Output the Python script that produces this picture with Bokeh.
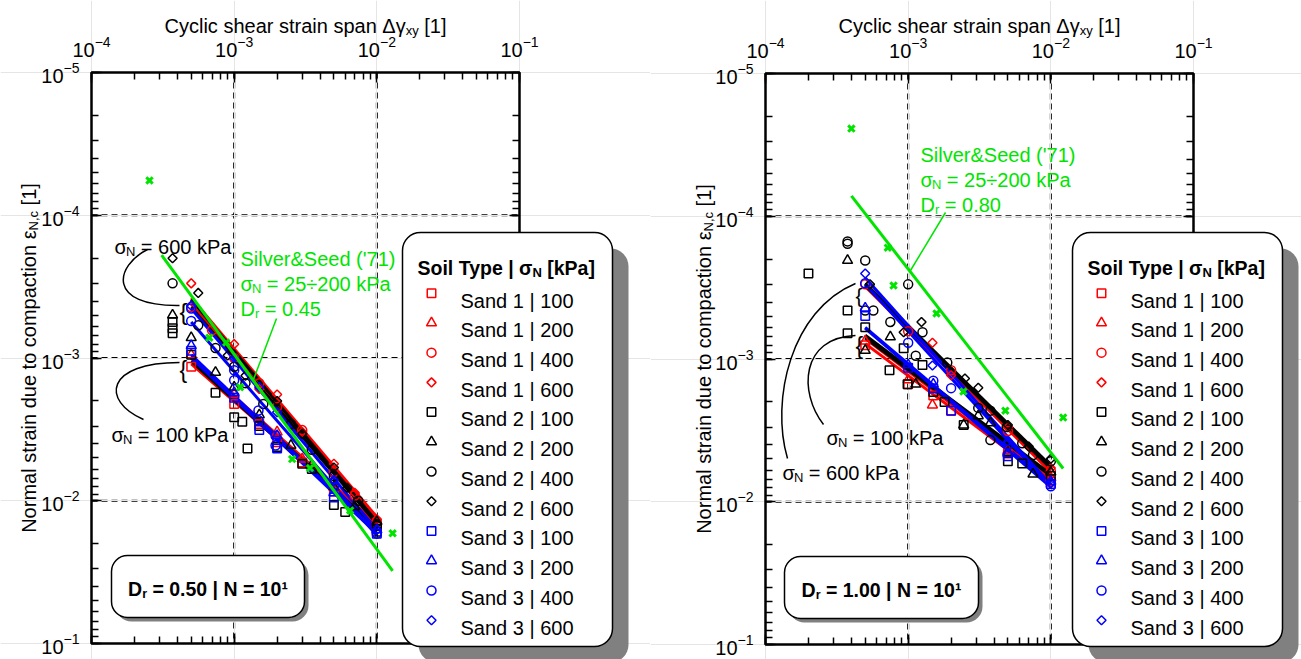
import math
from bokeh.plotting import figure
from bokeh.models import Range1d, LogAxis, LogTicker, Label, BoxAnnotation
from bokeh.layouts import row
from bokeh.embed import file_html
from bokeh.resources import INLINE

# ---------------- DATA : panel A (Dr = 0.50) ----------------
A_S1_100_x = [5e-4, 1e-3, 1.5e-3, 2e-3, 3e-3, 5e-3, 1e-2]
A_S1_100_y = [1.15e-3, 2.1e-3, 2.9e-3, 3.9e-3, 5.4e-3, 8.6e-3, 1.5e-2]
A_S1_200_x = [5e-4, 1e-3, 2e-3, 3e-3, 5e-3, 1e-2]
A_S1_200_y = [9.5e-4, 1.8e-3, 3.3e-3, 5.1e-3, 8.0e-3, 1.4e-2]
A_S1_400_x = [5e-4, 7e-4, 1e-3, 1.5e-3, 2e-3, 3e-3, 5e-3, 7e-3, 1e-2]
A_S1_400_y = [4.4e-4, 6.4e-4, 1.0e-3, 1.5e-3, 2.2e-3, 3.2e-3, 6.3e-3, 9.2e-3, 1.4e-2]
A_S1_600_x = [5e-4, 1e-3, 1.5e-3, 2e-3, 3e-3, 5e-3, 7e-3, 1e-2]
A_S1_600_y = [3.0e-4, 8.0e-4, 1.65e-3, 1.8e-3, 3.3e-3, 5.5e-3, 8.8e-3, 1.35e-2]
A_S2_100_x = [3.7e-4, 3.7e-4, 3.7e-4, 5e-4, 7.4e-4, 1e-3, 1.14e-3, 1.24e-3, 1.5e-3, 2e-3, 3e-3, 3.5e-3, 5e-3, 6e-3, 1e-2]
A_S2_100_y = [5.6e-4, 6.2e-4, 6.7e-4, 9.5e-4, 1.75e-3, 2.6e-3, 2.8e-3, 4.3e-3, 3.0e-3, 4.2e-3, 5.5e-3, 6.0e-3, 1.07e-2, 1.2e-2, 1.65e-2]
A_S2_200_x = [3.7e-4, 5e-4, 7.4e-4, 1e-3, 1.5e-3, 2.5e-3, 3.5e-3, 5e-3, 7e-3, 1e-2]
A_S2_200_y = [5.0e-4, 7.2e-4, 1.26e-3, 1.6e-3, 2.5e-3, 4.1e-3, 5.6e-3, 8.0e-3, 1.1e-2, 1.4e-2]
A_S2_400_x = [3.7e-4, 5.6e-4, 7.4e-4, 1e-3, 1.2e-3, 1.6e-3, 2.5e-3, 3.5e-3, 5e-3, 7.4e-3, 1e-2]
A_S2_400_y = [3.0e-4, 5.9e-4, 8.5e-4, 1.15e-3, 1.5e-3, 2.1e-3, 2.9e-3, 4.4e-3, 6.7e-3, 1.0e-2, 1.5e-2]
A_S2_600_x = [3.7e-4, 5.6e-4, 9e-4, 1.2e-3, 2e-3, 3e-3, 5e-3, 6.2e-3, 1e-2]
A_S2_600_y = [2.0e-4, 3.5e-4, 9.6e-4, 1.33e-3, 2.0e-3, 3.4e-3, 5.85e-3, 8.1e-3, 1.45e-2]
A_S3_100_x = [5e-4, 1e-3, 1.5e-3, 2e-3, 5e-3, 1e-2]
A_S3_100_y = [8.9e-4, 1.9e-3, 3.2e-3, 4.3e-3, 9.5e-3, 1.7e-2]
A_S3_200_x = [5e-4, 1e-3, 2e-3, 5e-3, 1e-2]
A_S3_200_y = [8.2e-4, 1.75e-3, 3.5e-3, 8.8e-3, 1.6e-2]
A_S3_400_x = [5e-4, 5e-4, 1e-3, 1e-3, 1.48e-3, 1.48e-3, 1.95e-3, 1.95e-3, 5e-3, 1e-2]
A_S3_400_y = [4.5e-4, 5.5e-4, 1.22e-3, 1.43e-3, 2.33e-3, 2.73e-3, 3.5e-3, 4.1e-3, 8.0e-3, 1.7e-2]
A_S3_600_x = [5e-4, 1e-3, 1.5e-3, 2e-3, 5e-3, 1e-2]
A_S3_600_y = [4.3e-4, 1.0e-3, 1.6e-3, 2.4e-3, 7.2e-3, 1.6e-2]
# fitted power-law lines (value at FIT_X[0] and FIT_X[1]); order S1-100..S1-600, S2-..., S3-...
FIT_X = [5e-4, 1e-2]
A_FIT_START = [1.1e-3, 1.0e-3, 4.2e-4, 3.8e-4, 1.05e-3, 1.0e-3, 4.4e-4, 3.9e-4, 1.0e-3, 9.5e-4, 5.6e-4, 4.5e-4]
A_FIT_END = [1.5e-2, 1.45e-2, 1.35e-2, 1.3e-2, 1.6e-2, 1.55e-2, 1.45e-2, 1.4e-2, 1.7e-2, 1.65e-2, 1.75e-2, 1.6e-2]
# Silver & Seed ('71), Dr = 0.45
A_SS_x = [2.55e-4, 6.7e-4, 8.8e-4, 1.1e-3, 2.55e-3, 3.4e-3, 6.5e-3, 1.29e-2]
A_SS_y = [5.7e-5, 7.2e-4, 7.8e-4, 1.6e-3, 5.1e-3, 5.9e-3, 1.17e-2, 1.69e-2]
A_SS_LINE_x = [3.1e-4, 1.29e-2]
A_SS_LINE_y = [1.9e-4, 3.1e-2]

# ---------------- DATA : panel B (Dr = 1.00) ----------------
B_S1_100_x = [5e-4, 1e-3, 1.5e-3, 2e-3, 5e-3, 1e-2]
B_S1_100_y = [8.0e-4, 1.5e-3, 1.8e-3, 2.3e-3, 4.6e-3, 7.2e-3]
B_S1_200_x = [5e-4, 1e-3, 1.48e-3, 5e-3, 1e-2]
B_S1_200_y = [7.5e-4, 1.4e-3, 2.1e-3, 4.4e-3, 6.8e-3]
B_S1_400_x = [5e-4, 1e-3, 2e-3, 5e-3, 1e-2]
B_S1_400_y = [3.0e-4, 6.4e-4, 1.2e-3, 3.2e-3, 6.1e-3]
B_S1_600_x = [1.48e-3, 2e-3, 5e-3, 1e-2]
B_S1_600_y = [7.7e-4, 1.3e-3, 3.0e-3, 5.8e-3]
B_S2_100_x = [2e-4, 3.76e-4, 3.76e-4, 5e-4, 7.4e-4, 9.3e-4, 9.9e-4, 1.26e-3, 1.5e-3, 1.8e-3, 2.45e-3, 5e-3, 6.3e-3, 1e-2]
B_S2_100_y = [2.52e-4, 4.57e-4, 6.6e-4, 6.0e-4, 1.2e-3, 8.4e-4, 1.5e-3, 1.1e-3, 1.7e-3, 2.0e-3, 2.9e-3, 5.2e-3, 5.4e-3, 6.6e-3]
B_S2_200_x = [3.76e-4, 5e-4, 7.5e-4, 1.13e-3, 2.45e-3, 3.1e-3, 3.77e-3, 5e-3, 7.5e-3, 1e-2]
B_S2_200_y = [2.04e-4, 8.7e-4, 7.0e-4, 1.5e-3, 2.9e-3, 2.5e-3, 2.8e-3, 4.5e-3, 6.4e-3, 6.2e-3]
B_S2_400_x = [3.76e-4, 3.76e-4, 5e-4, 5e-4, 5.7e-4, 7.5e-4, 1e-3, 1.13e-3, 1.26e-3, 1.88e-3, 3.1e-3, 3.77e-3, 3.77e-3, 4.9e-3, 6.3e-3, 7.5e-3, 1e-2]
B_S2_400_y = [1.5e-4, 1.56e-4, 2.04e-4, 4.57e-4, 4.57e-4, 5.5e-4, 3.0e-4, 9.5e-4, 6.5e-4, 1.06e-3, 2.2e-3, 2.3e-3, 3.7e-3, 3.0e-3, 3.9e-3, 4.7e-3, 5.2e-3]
B_S2_600_x = [5.4e-4, 9.3e-4, 1.24e-3, 2.5e-3, 3.1e-3, 5e-3, 7e-3, 1e-2]
B_S2_600_y = [3.0e-4, 6.5e-4, 5.5e-4, 1.37e-3, 1.59e-3, 2.9e-3, 4.1e-3, 5.0e-3]
B_S3_100_x = [5e-4, 1e-3, 1.5e-3, 2e-3, 5e-3, 1e-2]
B_S3_100_y = [5.0e-4, 1.15e-3, 1.6e-3, 2.3e-3, 4.8e-3, 7.5e-3]
B_S3_200_x = [5e-4, 1e-3, 1.5e-3, 5e-3, 1e-2]
B_S3_200_y = [4.4e-4, 1.1e-3, 1.5e-3, 4.6e-3, 7.2e-3]
B_S3_400_x = [5e-4, 1e-3, 1.5e-3, 2e-3, 5e-3, 1e-2]
B_S3_400_y = [2.95e-4, 7.7e-4, 1.42e-3, 1.6e-3, 4.0e-3, 7.8e-3]
B_S3_600_x = [5e-4, 1.48e-3, 5e-3, 1e-2]
B_S3_600_y = [2.52e-4, 1.11e-3, 3.8e-3, 7.4e-3]
B_FIT_START = [7.8e-4, 7.2e-4, 3.1e-4, 3.0e-4, 7.1e-4, 6.8e-4, 3.05e-4, 2.95e-4, 6.1e-4, 6.0e-4, 3.0e-4, 2.7e-4]
B_FIT_END = [7.3e-3, 7.0e-3, 6.2e-3, 6.0e-3, 6.6e-3, 6.4e-3, 5.85e-3, 5.6e-3, 7.9e-3, 7.6e-3, 7.9e-3, 7.6e-3]
# Silver & Seed ('71), Dr = 0.80
B_SS_x = [4.0e-4, 7.2e-4, 7.9e-4, 1.58e-3, 2.44e-3, 4.8e-3, 1.22e-2]
B_SS_y = [2.43e-5, 1.66e-4, 3.06e-4, 4.8e-4, 1.69e-3, 2.3e-3, 2.57e-3]
B_SS_LINE_x = [4.0e-4, 1.22e-2]
B_SS_LINE_y = [7.2e-5, 5.85e-3]

# axes / grid
X_LIMITS = (1e-4, 1e-1)
Y_LIMITS = (1e-5, 1e-1)
GRID_X = [1e-3, 1e-2]
GRID_Y = [1e-4, 1e-3, 1e-2]

SANDS = ["Sand 1", "Sand 2", "Sand 3"]
SAND_COLORS = ["#ff0000", "#000000", "#0000ff"]
STRESSES = [100, 200, 400, 600]
STRESS_MARKERS = ["square", "triangle", "circle", "diamond"]
GREEN = "#00e400"
FONT = "Liberation Sans"

A_SERIES = [(A_S1_100_x, A_S1_100_y), (A_S1_200_x, A_S1_200_y), (A_S1_400_x, A_S1_400_y), (A_S1_600_x, A_S1_600_y),
            (A_S2_100_x, A_S2_100_y), (A_S2_200_x, A_S2_200_y), (A_S2_400_x, A_S2_400_y), (A_S2_600_x, A_S2_600_y),
            (A_S3_100_x, A_S3_100_y), (A_S3_200_x, A_S3_200_y), (A_S3_400_x, A_S3_400_y), (A_S3_600_x, A_S3_600_y)]
B_SERIES = [(B_S1_100_x, B_S1_100_y), (B_S1_200_x, B_S1_200_y), (B_S1_400_x, B_S1_400_y), (B_S1_600_x, B_S1_600_y),
            (B_S2_100_x, B_S2_100_y), (B_S2_200_x, B_S2_200_y), (B_S2_400_x, B_S2_400_y), (B_S2_600_x, B_S2_600_y),
            (B_S3_100_x, B_S3_100_y), (B_S3_200_x, B_S3_200_y), (B_S3_400_x, B_S3_400_y), (B_S3_600_x, B_S3_600_y)]

# ---------------- text metrics (Arial / Liberation Sans, per 1000 em) ----------------
W_REG = {' ': 278, "'": 191, '(': 333, ')': 333, ',': 278, '.': 278, '=': 584, '&': 667, '[': 278, ']': 278,
         '|': 260, '{': 334, '÷': 584, 'C': 722, 'D': 722, 'N': 722, 'P': 667, 'S': 667,
         'a': 556, 'c': 500, 'd': 556, 'e': 556, 'h': 556, 'i': 222, 'k': 500, 'l': 222, 'm': 833, 'n': 556,
         'o': 556, 'p': 556, 'r': 333, 's': 500, 't': 278, 'u': 556, 'v': 500, 'x': 500, 'y': 500,
         'Δ': 668, 'γ': 500, 'ε': 446, 'σ': 570}
W_BOLD = {' ': 278, '.': 278, '=': 584, '[': 333, ']': 333, '|': 280, '¹': 333, 'D': 722, 'N': 722, 'P': 667,
          'S': 667, 'T': 611, 'a': 556, 'e': 556, 'i': 278, 'k': 556, 'l': 278, 'o': 611, 'p': 611, 'r': 389,
          'y': 556, 'σ': 610}


def tw(s, size, bold=False):
    t = W_BOLD if bold else W_REG
    return sum(t.get(ch, 556) for ch in s) * size / 1000.0


class Geo:
    """maps page pixels to data coordinates of a panel's log-log plot box"""
    def __init__(self, left, top, fw=428, fh=571):
        self.left, self.top = left, top
        self.px_dec_x = fw / 3.0
        self.px_dec_y = fh / 4.0

    def X(self, px):
        return 10 ** ((px - self.left) / self.px_dec_x - 4)

    def Y(self, py):
        return 10 ** ((py - self.top) / self.px_dec_y - 5)


def add_label(p, geo, px, py, text, size, color="black", bold=False, angle=0.0):
    p.add_layout(Label(x=geo.X(px), y=geo.Y(py), text=text, text_font=FONT, text_font_size=f"{size}px",
                       text_color=color, text_font_style="bold" if bold else "normal",
                       text_align="left", text_baseline="alphabetic", angle=angle))


def rich(p, geo, px, py, pieces, color="black", center=False, vertical=False):
    total = sum(tw(t, s, b) for t, s, b, _ in pieces)
    if vertical:
        cur = py + total / 2 if center else py
    else:
        cur = px - total / 2 if center else px
    for t, s, b, sh in pieces:
        lead = len(t) - len(t.lstrip(" "))
        shift = tw(" " * lead, s, b)
        body = t.lstrip(" ")
        if vertical:
            add_label(p, geo, px + sh, cur - shift, body, s, color, b, angle=math.pi / 2)
            cur -= tw(t, s, b)
        else:
            add_label(p, geo, cur + shift, py + sh, body, s, color, b)
            cur += tw(t, s, b)


def draw_markers(p, x, y, kind, color, level=None):
    common = dict(line_color=color, fill_color=None, line_width=1.5)
    if kind == "diamond":
        r = p.scatter(x, y, marker="square", angle=math.pi / 4, size=6.4, **common)
    elif kind == "square":
        r = p.scatter(x, y, marker="square", size=8.5, **common)
    elif kind == "triangle":
        r = p.scatter(x, y, marker="triangle", size=10, **common)
    else:
        r = p.scatter(x, y, marker="circle", size=9, **common)
    if level:
        r.level = level
    return r


def rbox(p, geo, l, t, r, b, radius, shadow):
    p.add_layout(BoxAnnotation(left=geo.X(l + shadow), right=geo.X(r + shadow), top=geo.Y(t + shadow),
                               bottom=geo.Y(b + shadow), fill_color="#808080", fill_alpha=1.0,
                               line_color=None, border_radius=radius))
    p.add_layout(BoxAnnotation(left=geo.X(l), right=geo.X(r), top=geo.Y(t), bottom=geo.Y(b),
                               fill_color="white", fill_alpha=1.0, line_color="black", line_alpha=1.0,
                               line_width=1.5, border_radius=radius))


def style_axis(ax, show_labels, standoff):
    ax.ticker = LogTicker(num_minor_ticks=10)
    ax.axis_line_color = None
    ax.major_tick_in = 10
    ax.major_tick_out = 0
    ax.minor_tick_in = 7
    ax.minor_tick_out = 0
    ax.major_tick_line_color = "black"
    ax.minor_tick_line_color = "black"
    ax.major_tick_line_width = 1.5
    ax.minor_tick_line_width = 1.5
    ax.major_label_text_font = FONT
    ax.major_label_standoff = standoff
    if show_labels:
        ax.major_label_text_font_size = "20px"
        ax.major_label_text_color = "black"
    else:
        ax.major_label_text_font_size = "2px"
        ax.major_label_text_color = None


def build(geo, page_left, fig_w, series, fit_start, fit_end, ss_x, ss_y, ssl_x, ssl_y, ann):
    fig_h = 659
    p = figure(frame_width=fig_w, frame_height=fig_h, min_border=0,
               x_axis_type="log", y_axis_type="log", x_axis_location=None, y_axis_location=None,
               x_range=Range1d(geo.X(page_left), geo.X(page_left + fig_w)),
               y_range=Range1d(geo.Y(fig_h), geo.Y(0)),
               toolbar_location=None, output_backend="svg",
               background_fill_color="white", border_fill_color="white", outline_line_color=None)

    # frame axes at the plot box edges
    top = LogAxis(fixed_location=Y_LIMITS[0], bounds=X_LIMITS)
    style_axis(top, True, 16)
    p.add_layout(top, "above")
    bottom = LogAxis(fixed_location=Y_LIMITS[1], bounds=X_LIMITS)
    style_axis(bottom, False, 0)
    p.add_layout(bottom, "below")
    left = LogAxis(fixed_location=X_LIMITS[0], bounds=Y_LIMITS)
    style_axis(left, True, 12)
    p.add_layout(left, "left")
    right = LogAxis(fixed_location=X_LIMITS[1], bounds=Y_LIMITS)
    style_axis(right, False, 0)
    p.add_layout(right, "right")

    # dashed grid at decades
    g1 = p.segment(x0=GRID_X, y0=[Y_LIMITS[0]] * len(GRID_X), x1=GRID_X, y1=[Y_LIMITS[1]] * len(GRID_X),
                   line_color="black", line_dash="6 4", line_width=2)
    g2 = p.segment(x0=[X_LIMITS[0]] * len(GRID_Y), y0=GRID_Y, x1=[X_LIMITS[1]] * len(GRID_Y), y1=GRID_Y,
                   line_color="black", line_dash="6 4", line_width=2)
    g1.level = "underlay"
    g2.level = "underlay"
    # plot box
    p.quad(left=[X_LIMITS[0]], right=[X_LIMITS[1]], top=[Y_LIMITS[0]], bottom=[Y_LIMITS[1]],
           fill_color=None, line_color="black", line_width=2.5)

    # fitted lines
    for i in range(12):
        p.line(FIT_X, [fit_start[i], fit_end[i]], line_color=SAND_COLORS[i // 4], line_width=3)
    # measured points
    for i, (xs, ys) in enumerate(series):
        draw_markers(p, xs, ys, STRESS_MARKERS[i % 4], SAND_COLORS[i // 4])
    # Silver & Seed
    p.line(ssl_x, ssl_y, line_color=GREEN, line_width=3)
    p.scatter(ss_x, ss_y, marker="x", size=9, line_color=GREEN, line_width=3)

    # annotation curves and pointer
    for (x0, y0), (c0x, c0y), (c1x, c1y), (x1, y1) in ann["curves"]:
        p.bezier(x0=[geo.X(x0)], y0=[geo.Y(y0)], x1=[geo.X(x1)], y1=[geo.Y(y1)],
                 cx0=[geo.X(c0x)], cy0=[geo.Y(c0y)], cx1=[geo.X(c1x)], cy1=[geo.Y(c1y)],
                 line_color="black", line_width=1.5)
    (ax0, ay0), (ax1, ay1) = ann["pointer"]
    p.segment(x0=[geo.X(ax0)], y0=[geo.Y(ay0)], x1=[geo.X(ax1)], y1=[geo.Y(ay1)], line_color=GREEN, line_width=1.5)
    for bx, by, bs in ann["braces"]:
        add_label(p, geo, bx, by, "{", bs)

    # sigma labels
    for sx, sy, txt in ann["sigma"]:
        rich(p, geo, sx, sy, [("σ", 20, False, 0), ("N", 13, False, 5), (txt, 20, False, 0)])
    # Silver & Seed label
    gx, gy, dr_txt = ann["ss_text"]
    add_label(p, geo, gx, gy, "Silver&Seed ('71)", 20, GREEN)
    rich(p, geo, gx, gy + 25, [("σ", 20, False, 0), ("N", 13, False, 5), (" = 25÷200 kPa", 20, False, 0)], GREEN)
    rich(p, geo, gx, gy + 50, [("D", 20, False, 0), ("r", 13, False, 5), (dr_txt, 20, False, 0)], GREEN)

    # axis titles
    fl, ft = geo.left, geo.top
    rich(p, geo, fl + 214, 25, [("Cyclic shear strain span Δγ", 20, False, 0), ("xy", 13, False, 5),
                                (" [1]", 20, False, 0)], center=True)
    rich(p, geo, ann["ylab_x"], ft + 285.5, [("Normal strain due to compaction ε", 20, False, 0),
                                            ("N,c", 13, False, 5), (" [1]", 20, False, 0)],
         center=True, vertical=True)

    # info box
    l, t, r, b = ann["info_box"]
    rbox(p, geo, l, t, r, b, 16, 4)
    rich(p, geo, (l + r) / 2, t + 33, [("D", 19.5, True, 0), ("r", 12.5, True, 5),
                                      (ann["info_txt"], 19.5, True, 0)], center=True)

    # legend
    l, t, r, b = ann["legend_box"]
    rbox(p, geo, l, t, r, b, 18, 16)
    rich(p, geo, l + 15, t + 35, [("Soil Type | σ", 19.5, True, 0), ("N", 13, True, 5), (" [kPa]", 19.5, True, 0)])
    for k in range(12):
        base = t + 68 + k * 29.73
        add_label(p, geo, l + 58, base, f"{SANDS[k // 4]} | {STRESSES[k % 4]}", 20)
        draw_markers(p, [geo.X(l + 29)], [geo.Y(base - 7.3)], STRESS_MARKERS[k % 4], SAND_COLORS[k // 4],
                     level="overlay")
    return p


geoA = Geo(91, 72)
annA = dict(
    curves=[((147, 249), (115, 265), (105, 306), (179, 305)),
            ((143, 419), (100, 400), (105, 362), (179, 362))],
    pointer=((276, 318), (253, 379)),
    braces=[(179, 311, 24), (179, 369, 23)],
    sigma=[(114, 246, " = 600 kPa"), (111, 434, " = 100 kPa")],
    ss_text=(240, 258, " = 0.45"),
    ylab_x=28,
    info_box=(111, 555, 304, 617),
    info_txt=" = 0.50 | N = 10¹",
    legend_box=(402, 232, 612, 646),
)
geoB = Geo(765, 73)
annB = dict(
    curves=[((823, 424), (798, 392), (800, 337), (855, 335)),
            ((787, 458), (770, 400), (790, 310), (855, 283))],
    pointer=((945, 212), (910, 270)),
    braces=[(855, 295, 21), (855, 345, 23)],
    sigma=[(826, 437, " = 100 kPa"), (782, 472, " = 600 kPa")],
    ss_text=(920, 154, " = 0.80"),
    ylab_x=703,
    info_box=(784, 556, 978, 618),
    info_txt=" = 1.00 | N = 10¹",
    legend_box=(1072, 232, 1282, 646),
)

p1 = build(geoA, 0, 650, A_SERIES, A_FIT_START, A_FIT_END, A_SS_x, A_SS_y, A_SS_LINE_x, A_SS_LINE_y, annA)
p2 = build(geoB, 650, 651, B_SERIES, B_FIT_START, B_FIT_END, B_SS_x, B_SS_y, B_SS_LINE_x, B_SS_LINE_y, annB)

layout = row(p1, p2)
open("out.html", "w").write(file_html(layout, INLINE))
